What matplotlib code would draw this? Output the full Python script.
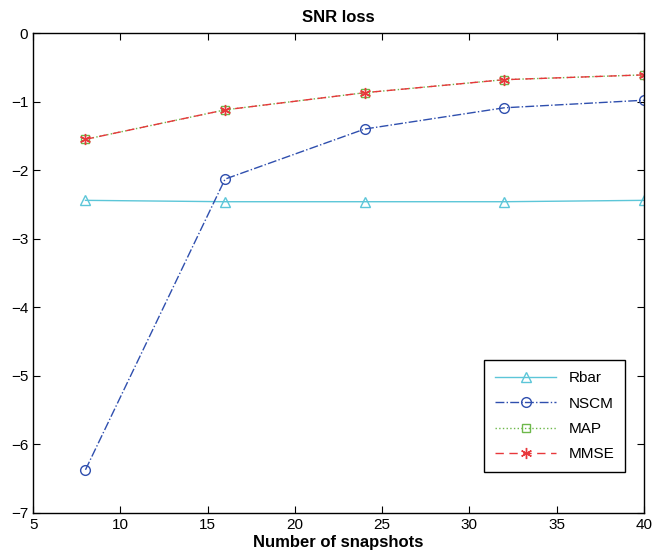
import numpy as np
import matplotlib.pyplot as plt

plt.rcParams['font.family'] = ['Liberation Sans', 'DejaVu Sans']

snapshots = [8, 16, 24, 32, 40]
rbar = [-2.44, -2.46, -2.46, -2.46, -2.44]
nscm = [-6.37, -2.13, -1.40, -1.09, -0.98]
map_ = [-1.55, -1.12, -0.87, -0.68, -0.61]
mmse = [-1.55, -1.12, -0.87, -0.68, -0.61]

fig = plt.figure(figsize=(6.63, 5.51), dpi=100)
ax = fig.add_axes([0.050, 0.069, 0.921, 0.871])

ax.plot(snapshots, rbar, '-', color='#5cc6d8', lw=1, marker='^', ms=7, mfc='none', mec='#5cc6d8', label='Rbar')
ax.plot(snapshots, nscm, '-.', color='#2f4fae', lw=1, marker='o', ms=7, mfc='none', mec='#2f4fae', label='NSCM')
ax.plot(snapshots, map_, ':', color='#6db84a', lw=1, marker='s', ms=6, mfc='none', mec='#6db84a', label='MAP')
ax.plot(snapshots, mmse, color='#e8383c', lw=1, ls=(0, (6, 4)), marker=(6, 2, 0), ms=8, mec='#e8383c', label='MMSE')

ax.set_xlim(5, 40)
ax.set_ylim(-7, 0)
ax.set_xticks(np.arange(5, 41, 5))
ax.set_yticks(np.arange(-7, 1, 1))
ax.set_yticklabels(['\u22127', '\u22126', '\u22125', '\u22124', '\u22123', '\u22122', '\u22121', '0'])
ax.tick_params(direction='in', top=True, right=True, labelsize=11, length=5)
for s in ax.spines.values():
    s.set_linewidth(1.0)

ax.set_title('SNR loss', fontsize=12, fontweight='bold', pad=8)
ax.set_xlabel('Number of snapshots', fontsize=12, fontweight='bold', labelpad=2)

leg = ax.legend(loc='lower right', bbox_to_anchor=(0.969, 0.085), borderaxespad=0, fancybox=False,
                framealpha=1, edgecolor='black', fontsize=11, handlelength=4.0, labelspacing=0.75,
                borderpad=0.7)
leg.get_frame().set_linewidth(1.0)

fig.savefig('out.png', dpi=100)
